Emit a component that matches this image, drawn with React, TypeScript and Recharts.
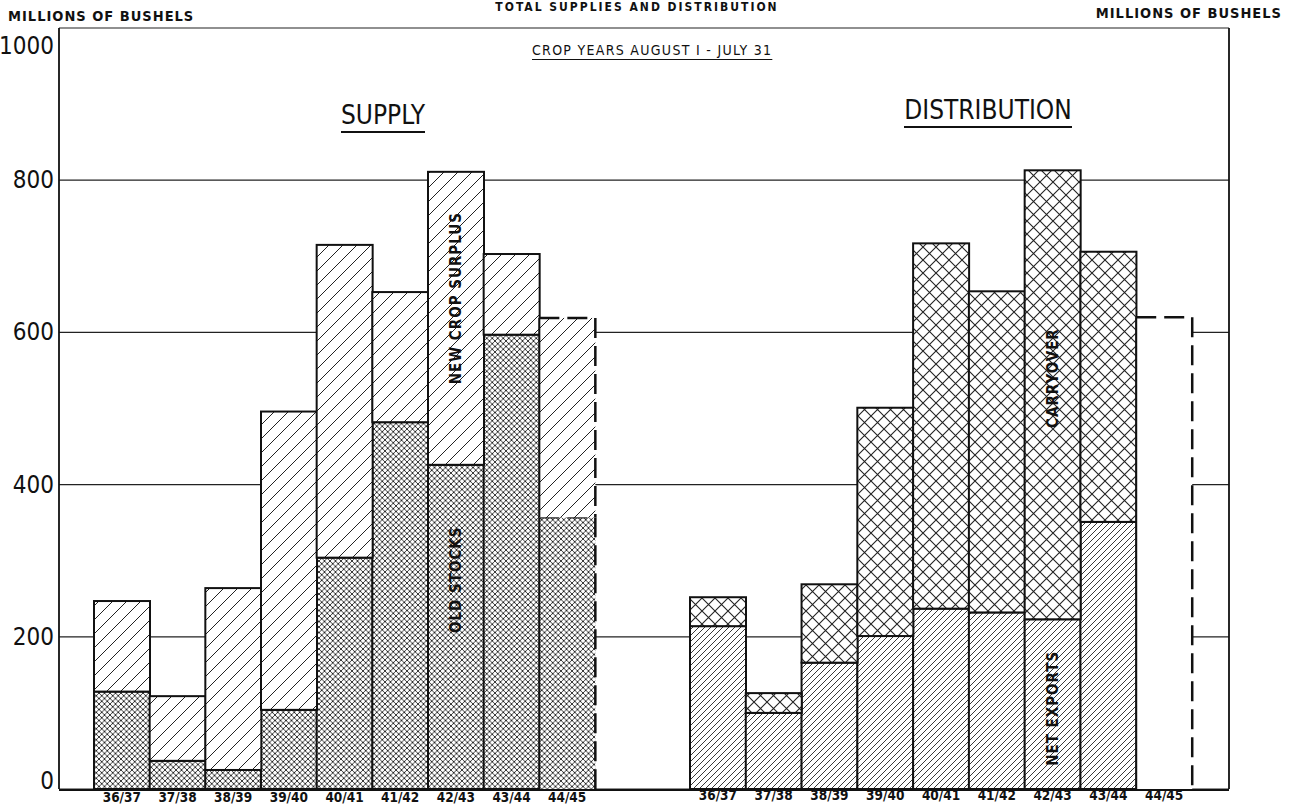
import React from 'react';
import {
    BarChart,
    Bar,
    XAxis,
    YAxis,
    CartesianGrid,
    ReferenceDot
} from 'recharts';

// crop years, Aug 1 - Jul 31
const years = ['36/37', '37/38', '38/39', '39/40', '40/41', '41/42', '42/43', '43/44', '44/45'];

// supply, millions of bushels
const oldStocks = [128, 37, 25, 104, 304, 482, 426, 597, 357];
const newCropSurplus = [119, 85, 239, 392, 411, 171, 385, 106, 262];

// distribution, millions of bushels
const netExports = [214, 100, 166, 201, 237, 232, 223, 351, null];
const carryover = [38, 26, 103, 300, 480, 422, 590, 355, null];
const unallocated = [null, null, null, null, null, null, null, null, 620];

// 44/45 is still an estimate -> dashed outline
const provisional = [false, false, false, false, false, false, false, false, true];

const yTicks = [0, 200, 400, 600, 800, 1000];

const chartData = years.map((year, i) => ({
    year,
    oldStocks: oldStocks[i],
    newCropSurplus: newCropSurplus[i],
    netExports: netExports[i],
    carryover: carryover[i],
    unallocated: unallocated[i]
}));

const NARROW = "'DejaVu Sans Condensed', 'Liberation Sans Narrow', sans-serif";
const LETTER = "'DejaVu Sans Condensed', 'DejaVu Sans', sans-serif";

const YTick = (props: any) => {
    const { x, y, payload, textAnchor } = props;
    let dy = 0;
    if (payload.value === 1000) dy = 18;
    if (payload.value === 0) dy = -8;
    return (
        <text
            x={x}
            y={y + dy}
            textAnchor={textAnchor}
            dominantBaseline="central"
            fontSize={24}
            fontFamily={NARROW}
            fill="#111"
        >
            {payload.value}
        </text>
    );
};

// solid box, or dashed top/right edges for provisional years
const HatchedBar = (props: any) => {
    const { x, y, width, height, fill, payload } = props;
    if (!height || height <= 0) return null;
    const idx = years.indexOf(payload?.year);
    if (!provisional[idx]) {
        return <rect x={x} y={y} width={width} height={height} fill={fill} stroke="#111" strokeWidth={2} />;
    }
    return (
        <g>
            <rect x={x} y={y} width={width} height={height} fill={fill} stroke="none" />
            <path d={`M${x},${y + height}V${y}`} stroke="#111" strokeWidth={2} fill="none" />
            <path
                d={`M${x},${y}H${x + width}V${y + height}`}
                stroke="#111"
                strokeWidth={2.5}
                strokeDasharray="20 8"
                fill="none"
            />
        </g>
    );
};

const VLabel = (props: any) => {
    const { viewBox, text } = props;
    const cx = viewBox.x + viewBox.width / 2;
    const cy = viewBox.y + viewBox.height / 2;
    return (
        <text
            x={cx}
            y={cy}
            transform={`rotate(-90 ${cx} ${cy})`}
            textAnchor="middle"
            dominantBaseline="central"
            fontSize={15}
            fontWeight={600}
            letterSpacing={1}
            fontFamily={LETTER}
            fill="#111"
        >
            {text}
        </text>
    );
};

const headStyle: React.CSSProperties = {
    position: 'absolute',
    fontFamily: LETTER,
    fontWeight: 600,
    color: '#111',
    whiteSpace: 'nowrap'
};

const xTick = { fontSize: 13.5, fontWeight: 700, fontFamily: LETTER, fill: '#111' };

export default function App() {
    return (
        <div style={{ position: 'absolute', left: 0, top: 0, width: 1290, height: 806, background: '#fff', overflow: 'hidden' }}>
            <BarChart
                width={1290}
                height={806}
                data={chartData}
                margin={{ top: 28, right: 0, bottom: 15, left: 0 }}
                barCategoryGap={0}
                barGap={0}
            >
                <defs>
                    <pattern id="newCrop" patternUnits="userSpaceOnUse" width={14} height={14}>
                        <rect width={14} height={14} fill="#fff" />
                        <path d="M0,14L14,0M-3.5,3.5L3.5,-3.5M10.5,17.5L17.5,10.5" stroke="#222" strokeWidth={1} />
                    </pattern>
                    <pattern id="oldStock" patternUnits="userSpaceOnUse" width={5.5} height={5.5}>
                        <rect width={5.5} height={5.5} fill="#fff" />
                        <path d="M0,0L5.5,5.5M0,5.5L5.5,0" stroke="#222" strokeWidth={0.9} />
                    </pattern>
                    <pattern id="netExp" patternUnits="userSpaceOnUse" width={6} height={6}>
                        <rect width={6} height={6} fill="#fff" />
                        <path d="M0,6L6,0M-1.5,1.5L1.5,-1.5M4.5,7.5L7.5,4.5" stroke="#222" strokeWidth={0.9} />
                    </pattern>
                    <pattern id="carry" patternUnits="userSpaceOnUse" width={13} height={13}>
                        <rect width={13} height={13} fill="#fff" />
                        <path d="M0,0L13,13M0,13L13,0" stroke="#222" strokeWidth={1.1} />
                    </pattern>
                </defs>
                <CartesianGrid
                    xAxisId="s"
                    yAxisId="l"
                    vertical={false}
                    stroke="#222"
                    strokeWidth={1.2}
                />
                <XAxis
                    xAxisId="s"
                    dataKey="year"
                    height={1}
                    padding={{ left: 35, right: 634 }}
                    tickLine={false}
                    tickSize={0}
                    tickMargin={2}
                    axisLine={{ stroke: '#111', strokeWidth: 2 }}
                    interval={0}
                    tick={xTick}
                />
                <XAxis
                    xAxisId="d"
                    dataKey="year"
                    height={1}
                    padding={{ left: 631, right: 37 }}
                    tickLine={false}
                    tickSize={0}
                    tickMargin={1}
                    axisLine={false}
                    interval={0}
                    tick={xTick}
                />
                <YAxis
                    yAxisId="l"
                    orientation="left"
                    width={59}
                    domain={[0, 1000]}
                    ticks={yTicks}
                    interval={0}
                    tickLine={false}
                    tickSize={0}
                    tickMargin={5}
                    axisLine={{ stroke: '#111', strokeWidth: 1.8 }}
                    tick={<YTick />}
                />
                <YAxis
                    yAxisId="r"
                    orientation="right"
                    width={61}
                    domain={[0, 1000]}
                    ticks={yTicks}
                    interval={0}
                    tickLine={false}
                    tickSize={0}
                    tickMargin={8}
                    axisLine={{ stroke: '#111', strokeWidth: 1.8 }}
                    tick={<YTick />}
                />
                <Bar xAxisId="s" yAxisId="l" stackId="supply" dataKey="oldStocks" fill="url(#oldStock)" shape={<HatchedBar />} isAnimationActive={false} />
                <Bar xAxisId="s" yAxisId="l" stackId="supply" dataKey="newCropSurplus" fill="url(#newCrop)" shape={<HatchedBar />} isAnimationActive={false} />
                <Bar xAxisId="d" yAxisId="l" stackId="dist" dataKey="netExports" fill="url(#netExp)" shape={<HatchedBar />} isAnimationActive={false} />
                <Bar xAxisId="d" yAxisId="l" stackId="dist" dataKey="carryover" fill="url(#carry)" shape={<HatchedBar />} isAnimationActive={false} />
                <Bar xAxisId="d" yAxisId="l" stackId="dist" dataKey="unallocated" fill="#fff" shape={<HatchedBar />} isAnimationActive={false} />
                <ReferenceDot xAxisId="s" yAxisId="l" x="42/43" y={645} r={1} fill="none" stroke="none" label={<VLabel text="NEW CROP SURPLUS" />} />
                <ReferenceDot xAxisId="s" yAxisId="l" x="42/43" y={275} r={1} fill="none" stroke="none" label={<VLabel text="OLD STOCKS" />} />
                <ReferenceDot xAxisId="d" yAxisId="l" x="42/43" y={540} r={1} fill="none" stroke="none" label={<VLabel text="CARRYOVER" />} />
                <ReferenceDot xAxisId="d" yAxisId="l" x="42/43" y={106} r={1} fill="none" stroke="none" label={<VLabel text="NET EXPORTS" />} />
            </BarChart>

            <div style={{ ...headStyle, left: 0, width: 1274, top: 0, lineHeight: '14px', textAlign: 'center', fontSize: 12, letterSpacing: 2 }}>
                TOTAL SUPPLIES AND DISTRIBUTION
            </div>
            <div style={{ ...headStyle, left: 8, top: 8, fontSize: 14.5, letterSpacing: 1 }}>
                MILLIONS OF BUSHELS
            </div>
            <div style={{ ...headStyle, right: 8, top: 5, fontSize: 14.5, letterSpacing: 1 }}>
                MILLIONS OF BUSHELS
            </div>
            <div style={{ ...headStyle, left: 532, top: 42, fontSize: 14, fontWeight: 400, letterSpacing: 1.3, textDecoration: 'underline', textUnderlineOffset: 4 }}>
                CROP YEARS AUGUST I - JULY 31
            </div>
            <div style={{ ...headStyle, left: 283, width: 200, top: 100, textAlign: 'center', fontSize: 26, fontWeight: 400, fontFamily: NARROW }}>
                <span style={{ borderBottom: '2px solid #111', paddingBottom: 1 }}>SUPPLY</span>
            </div>
            <div style={{ ...headStyle, left: 888, width: 200, top: 95, textAlign: 'center', fontSize: 26, fontWeight: 400, fontFamily: NARROW }}>
                <span style={{ borderBottom: '2px solid #111', paddingBottom: 1 }}>DISTRIBUTION</span>
            </div>
        </div>
    );
}
